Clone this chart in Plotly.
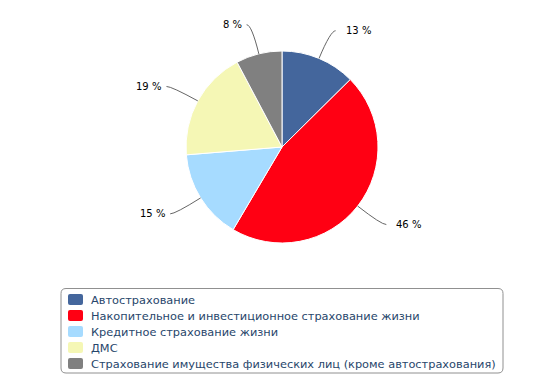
import math
import plotly.graph_objects as go

# ---- data ----
categories = [
    "Автострахование",
    "Накопительное и инвестиционное страхование жизни",
    "Кредитное страхование жизни",
    "ДМС",
    "Страхование имущества физических лиц (кроме автострахования)",
]
values = [12.6, 45.9, 15.2, 18.55, 7.75]
value_labels = ["13 %", "46 %", "15 %", "19 %", "8 %"]
colors = ["#44669c", "#ff0013", "#a6dbff", "#f5f7b5", "#808080"]

W, H = 543, 387
CX, CY, R = 282, 147, 96  # pie centre / radius in pixels

def px_to_paper(x, y):
    return x / W, 1 - y / H

x0, _ = px_to_paper(CX - R, 0)
x1, _ = px_to_paper(CX + R, 0)
_, y0 = px_to_paper(0, CY + R)
_, y1 = px_to_paper(0, CY - R)

fig = go.Figure(go.Pie(
    labels=categories,
    values=values,
    sort=False,
    direction="clockwise",
    rotation=0,
    marker=dict(colors=colors, line=dict(color="#ffffff", width=1)),
    textinfo="none",
    hoverinfo="label+percent",
    domain=dict(x=[x0, x1], y=[y0, y1]),
    showlegend=False,
))

# connector lines + labels computed from slice angles
total = sum(values)
cum = 0.0
shapes, annotations = [], []
for v, lab in zip(values, value_labels):
    mid = (cum + v / 2) / total * 2 * math.pi
    cum += v
    s, c = math.sin(mid), math.cos(mid)
    ex, ey = CX + R * s, CY - R * c
    ox, oy = CX + (R + 30) * s, CY - (R + 30) * c
    side = 1 if s >= 0 else -1
    hx, hy = ox + 5 * side, oy
    p = [px_to_paper(*pt) for pt in [(ex, ey), (ox, oy), (hx, hy)]]
    shapes.append(dict(
        type="path", xref="paper", yref="paper",
        path=f"M {p[0][0]},{p[0][1]} Q {p[1][0]},{p[1][1]} {p[2][0]},{p[2][1]}",
        line=dict(color="#666666", width=1),
    ))
    tx, ty = px_to_paper(hx + (8 if side > 0 else -3), hy)
    annotations.append(dict(
        x=tx, y=ty, xref="paper", yref="paper", text=lab, showarrow=False,
        xanchor="left" if side > 0 else "right", yanchor="middle",
        font=dict(family="DejaVu Sans", size=10, color="#000000"),
    ))

# ---- legend box (drawn manually for compact 16px rows) ----
LX0, LY0, LX1, LY1, RAD = 61, 288.5, 503, 373, 5
def P(x, y):
    a, b = px_to_paper(x, y)
    return f"{a},{b}"
box_path = (
    f"M {P(LX0 + RAD, LY0)} L {P(LX1 - RAD, LY0)} Q {P(LX1, LY0)} {P(LX1, LY0 + RAD)} "
    f"L {P(LX1, LY1 - RAD)} Q {P(LX1, LY1)} {P(LX1 - RAD, LY1)} "
    f"L {P(LX0 + RAD, LY1)} Q {P(LX0, LY1)} {P(LX0, LY1 - RAD)} "
    f"L {P(LX0, LY0 + RAD)} Q {P(LX0, LY0)} {P(LX0 + RAD, LY0)} Z"
)
shapes.append(dict(type="path", xref="paper", yref="paper", path=box_path,
                   line=dict(color="#909090", width=1), fillcolor="rgba(0,0,0,0)"))

ROW0, ROWH = 299.5, 16
for i, (cat, col) in enumerate(zip(categories, colors)):
    yc = ROW0 + i * ROWH
    sx0, sy0 = 68, yc - 5.5
    sx1, sy1 = 83, yc + 5.5
    r2 = 2
    sq = (
        f"M {P(sx0 + r2, sy0)} L {P(sx1 - r2, sy0)} Q {P(sx1, sy0)} {P(sx1, sy0 + r2)} "
        f"L {P(sx1, sy1 - r2)} Q {P(sx1, sy1)} {P(sx1 - r2, sy1)} "
        f"L {P(sx0 + r2, sy1)} Q {P(sx0, sy1)} {P(sx0, sy1 - r2)} "
        f"L {P(sx0, sy0 + r2)} Q {P(sx0, sy0)} {P(sx0 + r2, sy0)} Z"
    )
    shapes.append(dict(type="path", xref="paper", yref="paper", path=sq,
                       line=dict(width=0), fillcolor=col))
    tx, ty = px_to_paper(88.5, yc)
    annotations.append(dict(
        x=tx, y=ty, xref="paper", yref="paper", text=cat, showarrow=False,
        xanchor="left", yanchor="middle",
        font=dict(family="DejaVu Sans", size=11.35, color="#27466b"),
    ))

fig.update_layout(
    width=W, height=H,
    margin=dict(l=0, r=0, t=0, b=0),
    paper_bgcolor="#ffffff",
    plot_bgcolor="#ffffff",
    showlegend=False,
    shapes=shapes,
    annotations=annotations,
)

fig.write_html("out.html", config={"displayModeBar": False},
               post_script="document.body.style.margin='0';")
